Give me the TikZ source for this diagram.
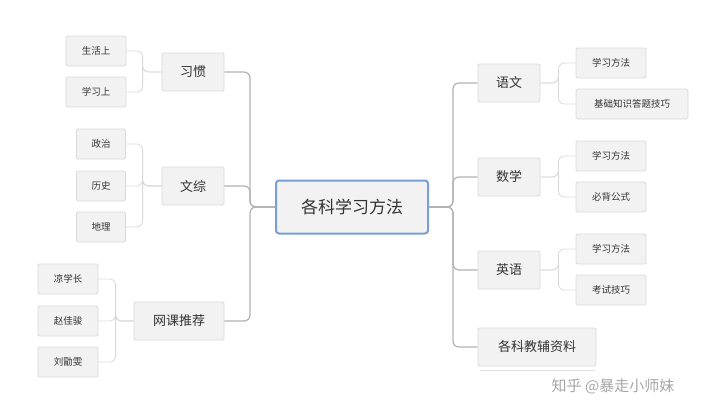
\documentclass[tikz,border=0pt]{standalone}
\usepackage{fontspec}
\setmainfont{Noto Sans CJK SC}
\definecolor{cblue}{RGB}{120,160,215}
\begin{document}
\begin{tikzpicture}[x=1pt,y=-1pt,
 box/.style={draw=black!15,fill=black!5,rounded corners=1.5pt,text=black!80,inner sep=0pt,line width=0.8pt},
 leaf/.style={box,minimum height=30pt,font=\fontsize{9.5}{10}\selectfont},
 par/.style={box,minimum height=38pt,font=\fontsize{13}{14}\selectfont},
 conn/.style={draw=black!30,line width=1.2pt,rounded corners=6pt},
 lconn/.style={draw=black!15,line width=0.8pt,rounded corners=6pt}]
\useasboundingbox (0,0) rectangle (720,415);
\node[box,draw=cblue,line width=2pt,minimum width=152pt,minimum height=53pt,rounded corners=3pt,font=\fontsize{17}{18}\selectfont] (c) at (352,207) {各科学习方法};
\node[par,minimum width=62pt] (xg) at (193,72) {习惯};
\node[par,minimum width=62pt] (wz) at (193,186) {文综};
\node[par,minimum width=90pt] (wk) at (179,321) {网课推荐};
\node[leaf,minimum width=60pt] (l1) at (96,51) {生活上};
\node[leaf,minimum width=60pt] (l2) at (96,92) {学习上};
\node[leaf,minimum width=49pt] (l3) at (101,144) {政治};
\node[leaf,minimum width=49pt] (l4) at (101,186) {历史};
\node[leaf,minimum width=49pt] (l5) at (101,227) {地理};
\node[leaf,minimum width=60pt] (l6) at (68,279) {凉学长};
\node[leaf,minimum width=60pt] (l7) at (68,321) {赵佳骏};
\node[leaf,minimum width=60pt] (l8) at (68,362) {刘勖雯};
\node[par,minimum width=62pt] (yw) at (509,83) {语文};
\node[par,minimum width=62pt] (sx) at (509,177) {数学};
\node[par,minimum width=62pt] (yy) at (509,270) {英语};
\node[par,minimum width=118pt] (jf) at (537,347) {各科教辅资料};
\node[leaf,minimum width=70pt] (r1) at (611,63) {学习方法};
\node[leaf,minimum width=112pt] (r2) at (632,104) {基础知识答题技巧};
\node[leaf,minimum width=70pt] (r3) at (611,156) {学习方法};
\node[leaf,minimum width=70pt] (r4) at (611,197) {必背公式};
\node[leaf,minimum width=70pt] (r5) at (611,249) {学习方法};
\node[leaf,minimum width=70pt] (r6) at (611,290) {考试技巧};
\coordinate (sl) at (250,207);
\coordinate (sr) at (453,207);
\foreach \n in {xg,wz,wk} \draw[conn] (c.west) -- (sl) |- (\n.east);
\foreach \n in {yw,sx,yy,jf} \draw[conn] (c.east) -- (sr) |- (\n.west);
\foreach \n in {l1,l2} \draw[lconn] (xg.west) -| ([xshift=-19pt]xg.west) |- (\n.east);
\foreach \n in {l3,l4,l5} \draw[lconn] (wz.west) -| ([xshift=-19pt]wz.west) |- (\n.east);
\foreach \n in {l6,l7,l8} \draw[lconn] (wk.west) -| ([xshift=-18pt]wk.west) |- (\n.east);
\foreach \n in {r1,r2} \draw[lconn] (yw.east) -| ([xshift=18pt]yw.east) |- (\n.west);
\foreach \n in {r3,r4} \draw[lconn] (sx.east) -| ([xshift=18pt]sx.east) |- (\n.west);
\foreach \n in {r5,r6} \draw[lconn] (yy.east) -| ([xshift=18pt]yy.east) |- (\n.west);
\draw[black!12,line width=0.8pt] (480,370) -- (595,370);
\node[text=black!35,font=\fontsize{15}{16}\selectfont] (wm) at (613,386) {知乎 @暴走小师妹};
\end{tikzpicture}
\end{document}
